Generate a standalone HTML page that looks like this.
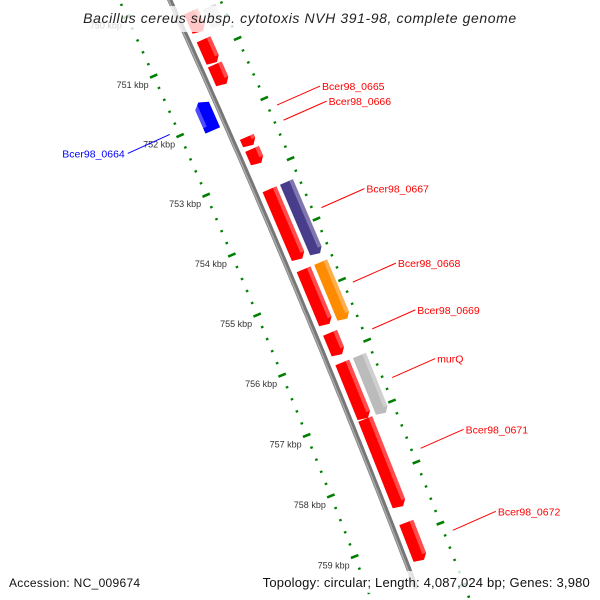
<!DOCTYPE html>
<html><head><meta charset="utf-8">
<style>
html,body{margin:0;padding:0;background:#fff;overflow:hidden;width:600px;height:600px;}
svg{display:block;font-family:"Liberation Sans","DejaVu Sans",sans-serif;overflow:hidden;}
</style></head>
<body>
<svg id="map" width="600" height="600" viewBox="0 0 600 600" xmlns="http://www.w3.org/2000/svg">
<g id="rings"></g>
<g id="backbone"></g>
<g id="feats"></g>
<g id="labels"></g>
<rect x="78" y="6" width="444" height="26" fill="#fff" opacity="0.78"/>
<text x="300" y="23" text-anchor="middle" font-size="14" letter-spacing="0.6" font-style="italic" fill="#222">Bacillus cereus subsp. cytotoxis NVH 391-98, complete genome</text>
<rect x="4" y="571" width="128" height="22" fill="#fff" opacity="0.78"/>
<rect x="254" y="571" width="342" height="22" fill="#fff" opacity="0.78"/>
<text x="9" y="587" font-size="12" letter-spacing="0.3" fill="#111">Accession: NC_009674</text>
<text x="590" y="587" text-anchor="end" font-size="13" letter-spacing="0.2" fill="#111">Topology: circular; Length: 4,087,024 bp; Genes: 3,980</text>
</svg>
<script>
// data
const featStart = [749.9,750.33,750.8,751.22,752.43,752.63,753.3,754.63,755.68,756.17,757.1,758.8, 753.3,754.63,756.17,750.38, 751.65];
const featEnd   = [750.08,750.68,751.2,751.56,752.58,752.88,754.47,755.55,756.05,757.1,758.55,759.43, 754.5,755.58,757.13,750.72, 752.13];
const featStrand= [1,1,1,1,1,1,1,1,1,1,1,1, 1,1,1,1, -1];
const featSlot  = [1,1,1,1,1,1,1,1,1,1,1,1, 2,2,2,2, 1];
const featColor = ["#ff0000","#ff0000","#ff0000","#ff0000","#ff0000","#ff0000","#ff0000","#ff0000","#ff0000","#ff0000","#ff0000","#ff0000","#483d8b","#ff8c00","#bbbbbb","#cccccc","#0000ff"];
const labelNames = ["Bcer98_0665","Bcer98_0666","Bcer98_0667","Bcer98_0668","Bcer98_0669","murQ","Bcer98_0671","Bcer98_0672","Bcer98_0664"];
const labelKbp   = [752.17,752.42,753.87,755.1,755.87,756.67,757.83,759.17,751.92];
const tickStart = 749.8, tickEnd = 760.2;

const NS="http://www.w3.org/2000/svg";
const CX=-9318, CY=4320, R=10425, TH0=-0.4087, ARC=65.4;
function ang(k){return TH0+(k-753)*ARC/R;}
function P(k,off){const a=ang(k);return [CX+(R+off)*Math.cos(a), CY+(R+off)*Math.sin(a)];}
function mk(tag,attrs,parent){const e=document.createElementNS(NS,tag);for(const a in attrs)e.setAttribute(a,attrs[a]);parent.appendChild(e);return e;}
function pts(a){return a.map(p=>p[0].toFixed(1)+","+p[1].toFixed(1)).join(" ");}

// backbone
const bb=document.getElementById('backbone');
let d="";for(let k=749.5;k<=759.9;k+=0.1){const p=P(k,0);d+=(d?"L":"M")+p[0].toFixed(1)+" "+p[1].toFixed(1);}
let b1=mk('path',{d:d,fill:"none",stroke:"#777",'stroke-width':5},bb);


let b2=mk('path',{d:d,fill:"none",stroke:"#aaa",'stroke-width':1.5,transform:"translate(-1,0.5)"},bb);



// ticks
const rg=document.getElementById('rings');
for(let i=0;;i++){
  const k=tickStart+i*0.2; if(k>tickEnd+1e-6)break;
  const major=Math.abs(k-Math.round(k))<1e-6;
  [-46,46].forEach(r=>{
    const len=major?4:1.3;
    const a=P(k,r-len),b=P(k,r+len);
    if(a[1]>605||b[1]>605)return;
    const t=mk('line',{x1:a[0],y1:a[1],x2:b[0],y2:b[1],stroke:"#008000",'stroke-width':major?2.6:2.2},rg);
    
    
  });
  if(major){
    const p=P(k,-46);
    if(p[1]>590)continue;
    const tx=mk('text',{x:p[0]-5,y:p[1]+12,'text-anchor':'end','font-size':9,fill:"#333"},rg);
    tx.textContent=Math.round(k)+" kbp";
    
    
  }
}

// features
const fg=document.getElementById('feats');
for(let i=0;i<featStart.length;i++){
  const s=featStrand[i];
  let r1,r2;
  if(s>0){ if(featSlot[i]===1){r1=7;r2=22;}else{r1=26;r2=40;} } else {r1=-22;r2=-6;}
  const k1=featStart[i],k2=featEnd[i],h=0.09,mid=(r1+r2)/2;
  let poly;
  if(s>0) poly=[P(k1,r1),P(k1,r2),P(k2-h,r2),P(k2,mid+3),P(k2-h*0.3,r1)];
  else poly=[P(k1+h,r1),P(k1,mid-2),P(k1+h*0.6,r2),P(k2,r2),P(k2,r1)];
  const g=mk('g',{},fg);
  
  
  mk('polygon',{points:pts(poly),fill:featColor[i]},g);
  const hr1=s>0?r2-4:r1, hr2=s>0?r2:r1+4;
  const hp=[P(k1,hr1),P(k1,hr2),P(k2-h,hr2),P(k2-h,hr1)];
  const hl=mk('polygon',{points:pts(hp),fill:"#fff",opacity:0.3},g);
  
  
}

// labels
const lg=document.getElementById('labels');
for(let i=0;i<labelNames.length;i++){
  const rev=labelNames[i]==="Bcer98_0664";
  const col=rev?"#0000ff":"#ff0000";
  const a=rev?P(labelKbp[i],-55):P(labelKbp[i],55);
  const b=rev?[a[0]-42,a[1]+19]:[a[0]+43,a[1]-19];
  const ln=mk('line',{x1:a[0],y1:a[1],x2:b[0],y2:b[1],stroke:col,'stroke-width':1},lg);
  
  
  const t=mk('text',{x:rev?b[0]-3:b[0]+2,y:b[1]+4,'text-anchor':rev?'end':'start','font-size':10.5,fill:col},lg);
  t.textContent=labelNames[i];
  
  
}
</script>
</body></html>
